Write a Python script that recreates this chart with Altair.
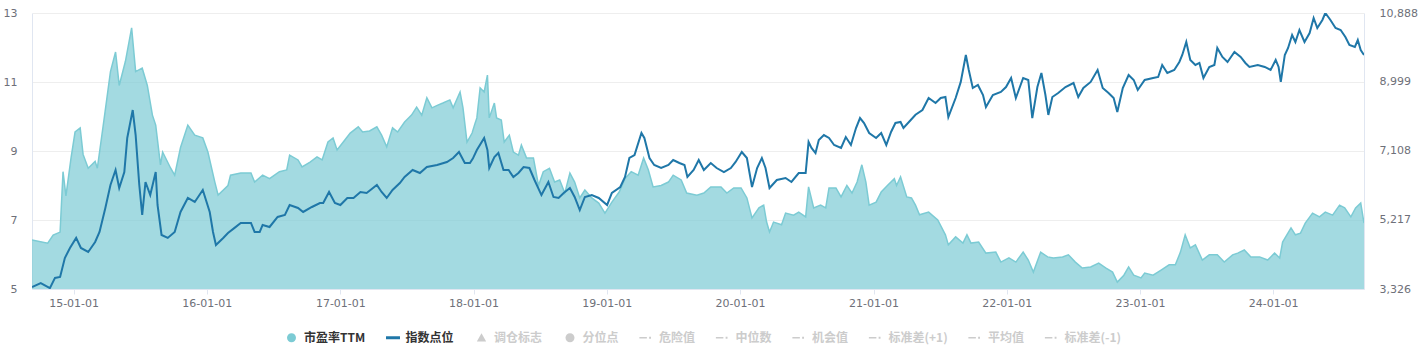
import altair as alt
import pandas as pd

# ---------------- data ----------------
pe_dates = [
    "2014-09-09", "2014-10-22", "2014-11-06", "2014-11-25", "2014-12-03", "2014-12-11", "2014-12-25",
    "2015-01-05", "2015-01-19", "2015-01-27", "2015-02-10", "2015-03-01", "2015-03-07", "2015-03-26",
    "2015-04-12", "2015-04-26", "2015-05-06", "2015-05-23", "2015-06-09", "2015-06-20", "2015-07-08",
    "2015-07-22", "2015-08-05", "2015-08-14", "2015-08-27", "2015-09-02", "2015-09-24", "2015-10-05",
    "2015-10-21", "2015-11-10", "2015-11-29", "2015-12-21",
    "2016-01-04", "2016-01-23", "2016-02-01", "2016-02-28", "2016-03-06", "2016-04-03", "2016-05-01",
    "2016-05-11", "2016-06-02", "2016-06-21", "2016-07-18", "2016-08-07", "2016-08-15", "2016-09-07",
    "2016-09-18", "2016-10-10", "2016-10-29", "2016-11-12", "2016-11-28", "2016-12-12", "2016-12-23",
    "2017-01-09", "2017-01-28", "2017-02-19", "2017-03-03", "2017-03-22", "2017-04-11", "2017-04-24",
    "2017-05-08", "2017-05-24", "2017-06-07", "2017-06-26", "2017-07-15", "2017-07-29", "2017-08-12",
    "2017-08-26", "2017-09-09", "2017-09-25", "2017-10-09", "2017-10-28", "2017-11-06", "2017-11-25",
    "2017-12-03", "2017-12-14", "2017-12-28",
    "2018-01-05", "2018-01-10", "2018-01-19", "2018-01-30", "2018-02-08", "2018-02-13", "2018-02-27",
    "2018-03-05", "2018-03-18", "2018-03-26", "2018-04-09", "2018-04-20", "2018-05-04", "2018-05-12",
    "2018-05-26", "2018-06-14", "2018-06-28", "2018-07-11", "2018-07-28", "2018-08-11", "2018-08-25",
    "2018-09-08", "2018-09-22", "2018-10-05", "2018-10-19", "2018-11-02", "2018-11-21", "2018-12-10",
    "2018-12-27",
    "2019-01-15", "2019-02-04", "2019-02-20", "2019-03-09", "2019-03-28", "2019-04-12", "2019-04-25",
    "2019-05-08", "2019-05-30", "2019-06-19", "2019-07-02", "2019-07-24", "2019-08-08", "2019-09-05",
    "2019-09-24", "2019-10-13", "2019-11-10", "2019-11-26", "2019-12-15",
    "2020-01-04", "2020-01-20", "2020-02-03", "2020-02-22", "2020-03-06", "2020-03-14", "2020-03-22",
    "2020-04-02", "2020-04-24", "2020-05-05", "2020-05-27", "2020-06-10", "2020-06-29", "2020-07-07",
    "2020-07-21", "2020-08-09", "2020-08-23", "2020-09-01", "2020-09-20", "2020-10-04", "2020-10-20",
    "2020-11-03", "2020-11-17", "2020-11-30", "2020-12-11", "2020-12-20",
    "2021-01-08", "2021-01-22", "2021-02-08", "2021-02-27", "2021-03-05", "2021-03-16", "2021-04-02",
    "2021-04-15", "2021-04-26", "2021-05-07", "2021-06-01", "2021-06-26", "2021-07-17", "2021-07-25",
    "2021-08-14", "2021-09-03", "2021-09-14", "2021-09-25", "2021-10-16", "2021-11-05", "2021-12-02",
    "2021-12-16",
    "2022-01-07", "2022-01-26", "2022-02-15", "2022-03-01", "2022-03-15", "2022-04-04", "2022-04-23",
    "2022-05-09", "2022-06-03", "2022-06-19", "2022-07-08", "2022-07-27", "2022-08-19", "2022-09-10",
    "2022-09-29", "2022-10-18", "2022-10-31", "2022-11-18", "2022-12-01", "2022-12-15",
    "2023-01-04", "2023-01-14", "2023-02-06", "2023-02-28", "2023-03-22", "2023-04-08", "2023-04-22",
    "2023-05-05", "2023-05-19", "2023-06-02", "2023-06-21", "2023-07-10", "2023-08-01", "2023-08-20",
    "2023-09-12", "2023-09-26", "2023-10-14", "2023-11-01", "2023-11-25", "2023-12-17",
    "2024-01-05", "2024-01-19", "2024-01-27", "2024-02-19", "2024-03-02", "2024-03-16", "2024-03-29",
    "2024-04-18", "2024-05-07", "2024-05-23", "2024-06-12", "2024-07-01", "2024-07-15", "2024-08-01",
    "2024-08-14", "2024-08-28", "2024-09-06",
]
pe_values = [
    6.42, 6.33, 6.56, 6.65, 8.4, 7.7, 8.8,
    9.55, 9.67, 8.9, 8.5, 8.7, 8.5, 9.96,
    11.3, 11.87, 10.9, 11.6, 12.57, 11.3, 11.4,
    10.9, 10.04, 9.75, 8.6, 8.97, 8.5, 8.3,
    9.1, 9.75, 9.46, 9.38,
    8.97, 8.1, 7.72, 8.0, 8.3, 8.36, 8.36,
    8.1, 8.3, 8.2, 8.4, 8.45, 8.88, 8.74,
    8.54, 8.68, 8.83, 8.74, 9.26, 9.38, 9.03,
    9.26, 9.52, 9.7, 9.55, 9.58, 9.7, 9.46,
    9.12, 9.67, 9.55, 9.84, 10.04, 10.27, 10.04,
    10.54, 10.25, 10.33, 10.39, 10.48, 10.25, 10.71,
    10.25, 9.26, 9.52,
    9.8, 9.96, 10.83, 10.71, 11.2, 9.96, 10.39,
    9.96, 9.9, 9.26, 9.46, 8.97, 8.88, 9.17,
    8.8, 8.8, 8.0, 8.4, 8.5, 8.1, 8.16,
    7.78, 8.36, 8.1, 7.64, 7.87, 7.64, 7.49,
    7.2,
    7.52, 7.81, 8.2, 8.4, 8.3, 8.8, 8.45,
    7.96, 8.0, 8.1, 8.3, 8.16, 7.78, 7.72,
    7.78, 7.96, 7.96, 7.78, 7.93,
    7.93, 7.64, 7.06, 7.35, 7.43, 6.94, 6.65,
    6.94, 6.86, 7.2, 7.14, 7.23, 7.09, 7.96,
    7.35, 7.43, 7.35, 7.93, 7.93, 7.67, 8.0,
    7.78, 8.1, 8.6, 8.1, 7.43,
    7.52, 7.81, 8.0, 8.2, 8.0, 8.25, 7.67,
    7.64, 7.43, 7.15, 7.23, 7.0, 6.57, 6.28,
    6.51, 6.33, 6.57, 6.33, 6.36, 6.04, 6.07,
    5.78,
    5.9, 5.78, 6.07, 5.84, 5.49, 6.07, 5.93,
    5.9, 5.93, 5.99, 5.78, 5.61, 5.64, 5.75,
    5.61, 5.49, 5.2, 5.4, 5.64, 5.4,
    5.32, 5.46, 5.4, 5.55, 5.7, 5.7, 6.07,
    6.57, 6.19, 6.28, 5.84, 5.99, 5.99, 5.78,
    5.99, 6.04, 6.13, 5.93, 5.93, 5.84,
    6.04, 5.9, 6.36, 6.77, 6.57, 6.62, 6.91,
    7.2, 7.09, 7.23, 7.14, 7.43, 7.35, 7.09,
    7.35, 7.49, 6.91,
]

idx_dates = [
    "2014-09-09", "2014-10-03", "2014-10-28", "2014-11-11", "2014-11-25", "2014-12-08", "2014-12-22",
    "2015-01-08", "2015-01-21", "2015-02-10", "2015-03-01", "2015-03-13", "2015-03-29", "2015-04-12",
    "2015-04-26", "2015-05-06", "2015-05-20", "2015-05-28", "2015-06-12", "2015-06-20", "2015-06-30",
    "2015-07-08", "2015-07-17", "2015-07-30", "2015-08-14", "2015-08-19", "2015-08-30", "2015-09-16",
    "2015-10-05", "2015-10-21", "2015-11-10", "2015-11-29", "2015-12-21",
    "2016-01-09", "2016-01-18", "2016-01-26", "2016-02-15", "2016-02-28", "2016-03-17", "2016-04-03",
    "2016-05-01", "2016-05-11", "2016-05-25", "2016-06-02", "2016-06-21", "2016-07-13", "2016-08-02",
    "2016-08-15", "2016-09-07", "2016-09-21", "2016-10-15", "2016-11-06", "2016-11-15", "2016-12-01",
    "2016-12-17",
    "2017-01-01", "2017-01-20", "2017-02-06", "2017-02-25", "2017-03-14", "2017-04-11", "2017-04-24",
    "2017-05-08", "2017-05-24", "2017-06-13", "2017-06-26", "2017-07-18", "2017-08-07", "2017-08-26",
    "2017-09-23", "2017-10-20", "2017-11-06", "2017-11-22", "2017-12-08", "2017-12-22", "2017-12-30",
    "2018-01-10", "2018-01-30", "2018-02-08", "2018-02-13", "2018-02-27", "2018-03-10", "2018-03-24",
    "2018-04-07", "2018-04-20", "2018-05-04", "2018-05-18", "2018-06-03", "2018-06-17", "2018-07-06",
    "2018-07-25", "2018-08-08", "2018-08-22", "2018-09-05", "2018-09-22", "2018-10-05", "2018-10-19",
    "2018-11-02", "2018-11-21", "2018-12-10",
    "2019-01-02", "2019-01-15", "2019-02-07", "2019-02-20", "2019-03-04", "2019-03-18", "2019-04-06",
    "2019-04-14", "2019-04-28", "2019-05-11", "2019-05-30", "2019-06-19", "2019-07-02", "2019-07-19",
    "2019-08-02", "2019-08-10", "2019-08-27", "2019-09-10", "2019-09-24", "2019-10-13", "2019-10-29",
    "2019-11-18", "2019-12-07", "2019-12-20",
    "2020-01-06", "2020-01-20", "2020-02-03", "2020-02-17", "2020-03-01", "2020-03-11", "2020-03-22",
    "2020-04-11", "2020-05-05", "2020-05-21", "2020-06-10", "2020-06-29", "2020-07-07", "2020-07-15",
    "2020-07-26", "2020-08-04", "2020-08-18", "2020-09-01", "2020-09-15", "2020-10-04", "2020-10-17",
    "2020-10-31", "2020-11-14", "2020-11-25", "2020-12-06", "2020-12-20",
    "2021-01-08", "2021-01-22", "2021-02-05", "2021-02-18", "2021-03-02", "2021-03-16", "2021-03-24",
    "2021-04-13", "2021-04-26", "2021-05-15", "2021-06-01", "2021-06-20", "2021-07-04", "2021-07-17",
    "2021-07-25", "2021-08-14", "2021-08-28", "2021-09-11", "2021-09-19", "2021-09-30", "2021-10-14",
    "2021-10-28", "2021-11-05", "2021-11-24", "2021-12-16", "2021-12-30",
    "2022-01-13", "2022-01-26", "2022-02-15", "2022-03-01", "2022-03-12", "2022-03-26", "2022-04-06",
    "2022-04-17", "2022-04-25", "2022-05-06", "2022-05-22", "2022-06-11", "2022-07-03", "2022-07-16",
    "2022-07-30", "2022-08-19", "2022-09-07", "2022-09-21", "2022-10-07", "2022-10-21", "2022-10-31",
    "2022-11-15", "2022-12-01", "2022-12-15", "2022-12-26",
    "2023-01-14", "2023-02-06", "2023-02-20", "2023-03-03", "2023-03-17", "2023-04-05", "2023-04-19",
    "2023-04-27", "2023-05-08", "2023-05-19", "2023-06-02", "2023-06-13", "2023-06-24", "2023-07-10",
    "2023-07-24", "2023-08-01", "2023-08-15", "2023-08-29", "2023-09-17", "2023-10-04", "2023-10-17",
    "2023-10-28", "2023-11-20", "2023-12-09", "2023-12-25",
    "2024-01-08", "2024-01-16", "2024-01-22", "2024-02-02", "2024-02-11", "2024-02-22", "2024-03-02",
    "2024-03-13", "2024-03-27", "2024-04-10", "2024-04-21", "2024-05-01", "2024-05-15", "2024-05-23",
    "2024-06-06", "2024-06-20", "2024-07-04", "2024-07-17", "2024-07-28", "2024-08-12", "2024-08-20",
    "2024-08-28", "2024-09-06",
]
idx_values = [
    3380, 3490, 3350, 3630, 3655, 4175, 4450,
    4725, 4450, 4340, 4614, 4888, 5545, 6175,
    6586, 6093, 6530, 7463, 8230, 7545, 6175,
    5353, 6258, 5900, 6530, 5628, 4806, 4725,
    4888, 5436, 5820, 5710, 6038,
    5436, 4888, 4530, 4725, 4860, 5000, 5135,
    5135, 4888, 4888, 5080, 5025, 5300, 5353,
    5628, 5545, 5436, 5573, 5682, 5682, 5984,
    5682,
    5628, 5820, 5820, 5984, 5957, 6175, 5984,
    5820, 6038, 6230, 6395, 6586, 6504, 6668,
    6723, 6806, 6915, 7080, 6778, 6778, 6900,
    7135, 7463, 7135, 6641, 6943, 7052, 6586,
    6586, 6395, 6504, 6668, 6641, 6313, 5900,
    6258, 5847, 5820, 5957, 6093, 5847, 5490,
    5847, 5900, 5820,
    5628, 5957, 6121, 6395, 6915, 6997, 7600,
    7463, 6915, 6723, 6641, 6723, 6860, 6778,
    6723, 6395, 6586, 6860, 6586, 6778, 6641,
    6530, 6641, 6806,
    7080, 6915, 6121, 6641, 6915, 6641, 6093,
    6313, 6367, 6258, 6504, 6504, 7354, 7190,
    7052, 7409, 7545, 7463, 7272, 7190, 7490,
    7272, 7737, 8010, 7874, 7600,
    7463, 7600, 7272, 7628, 7874, 7902, 7737,
    7957, 8100, 8230, 8559, 8422, 8559, 8587,
    8038, 8559, 9000, 9738, 9327, 8833, 8916,
    8641, 8313, 8641, 8724, 8860,
    9107, 8559, 9107, 9053, 8010, 8860, 9244,
    8641, 8094, 8587, 8696, 8860, 8970, 8587,
    8833, 9000, 9327, 8833, 8696, 8559, 8176,
    8833, 9190, 9053, 8779,
    9053, 9107, 9135, 9464, 9244, 9327, 9546,
    9738, 10094, 9601, 9464, 9519, 9107, 9409,
    9464, 9929, 9683, 9546, 9820, 9683, 9519,
    9409, 9464, 9409, 9327,
    9601, 9409, 9000, 9738, 9929, 10285, 10094,
    10422, 10094, 10340, 10751, 10477, 10696, 10888,
    10696, 10477, 10422, 10230, 10012, 9957, 10148,
    9875, 9738,
]

pe_ticks = [5, 7, 9, 11, 13]
idx_ticks = [3326, 5217, 7108, 8999, 10888]
year_ticks = [2015, 2016, 2017, 2018, 2019, 2020, 2021, 2022, 2023, 2024]

legend_items = ["市盈率TTM", "指数点位", "调仓标志", "分位点", "危险值", "中位数",
                "机会值", "标准差(+1)", "平均值", "标准差(-1)"]

# ---------------- styles ----------------
PE_COLOR = "#7ccbd4"
IDX_COLOR = "#1f77a8"
OFF_COLOR = "#cccccc"
LABEL_COLOR = "#6e7079"
AXIS_LINE = "#e0e6f1"
GRID = "#eeeeee"
FONT = "DejaVu Sans"

CIRCLE = "M-0.6,0A0.6,0.6,0,1,1,0.6,0A0.6,0.6,0,1,1,-0.6,0Z"
BAR = "M-0.93,-0.2H0.93V0.2H-0.93Z"
TRI = "M0,-0.6L0.62,0.5L-0.62,0.5Z"
DASHDOT = "M-0.95,-0.1H0.05V0.1H-0.95Z M0.35,-0.13H0.6V0.13H0.35Z"
legend_colors = [PE_COLOR, IDX_COLOR] + [OFF_COLOR] * 8
legend_shapes = [CIRCLE, BAR, TRI, CIRCLE] + [DASHDOT] * 6

assert len(pe_dates) == len(pe_values)
assert len(idx_dates) == len(idx_values)

pe_df = pd.DataFrame({"date": pd.to_datetime(pe_dates), "pe": pe_values})
idx_df = pd.DataFrame({"date": pd.to_datetime(idx_dates), "idx": idx_values})
leg_df = pd.DataFrame({"item": legend_items})

x_enc = alt.X(
    "date:T",
    scale=alt.Scale(nice=False),
    axis=alt.Axis(
        title=None, format="%y-%m-%d",
        values=[alt.DateTime(year=y, month=1, date=1) for y in year_ticks],
        grid=False, tickSize=5, tickColor=AXIS_LINE, domainColor=AXIS_LINE,
        labelColor=LABEL_COLOR, labelFont=FONT, labelFontSize=11, labelPadding=3,
    ),
)

area = alt.Chart(pe_df).mark_area(
    color=PE_COLOR, fillOpacity=0.7,
    line=alt.OverlayMarkDef(color=PE_COLOR, strokeWidth=1.5),
    clip=True,
).encode(
    x=x_enc,
    y=alt.Y(
        "pe:Q",
        scale=alt.Scale(domain=[5, 13], nice=False, zero=False),
        axis=alt.Axis(
            title=None, values=pe_ticks, grid=True, gridColor=GRID, ticks=False,
            domain=True, domainColor=AXIS_LINE, labelColor=LABEL_COLOR,
            labelFont=FONT, labelFontSize=11, labelPadding=15,
        ),
    ),
    y2=alt.datum(5),
)

line = alt.Chart(idx_df).mark_line(color=IDX_COLOR, strokeWidth=2, clip=True).encode(
    x=x_enc,
    y=alt.Y(
        "idx:Q",
        scale=alt.Scale(domain=[3326, 10888], nice=False, zero=False),
        axis=alt.Axis(
            title=None, orient="right", values=idx_ticks, format=",d", grid=False,
            ticks=False, domain=True, domainColor=AXIS_LINE, labelColor=LABEL_COLOR,
            labelFont=FONT, labelFontSize=11, labelPadding=15,
        ),
    ),
)

leg = alt.Legend(
    title=None, orient="none", legendX=252, legendY=317, direction="horizontal",
    columns=10, symbolSize=225, symbolStrokeWidth=0, symbolOpacity=1,
    labelFont="Noto Sans CJK SC", labelFontSize=12, labelFontWeight="bold",
    labelOffset=5, columnPadding=19.5, labelLimit=0,
    labelColor=alt.ExprRef(
        "indexof(['市盈率TTM','指数点位'], datum.label) >= 0 ? '#333333' : '#cccccc'"
    ),
)

legend_layer = alt.Chart(leg_df).mark_point(filled=True, opacity=0).encode(
    x=alt.value(0),
    y=alt.value(0),
    color=alt.Color("item:N", scale=alt.Scale(domain=legend_items, range=legend_colors), legend=leg),
    shape=alt.Shape("item:N", scale=alt.Scale(domain=legend_items, range=legend_shapes), legend=leg),
)

chart = alt.layer(area, line, legend_layer).resolve_scale(y="independent").properties(
    width=1332, height=276,
    padding={"left": 32, "top": 13, "right": 61, "bottom": 64},
    autosize=alt.AutoSizeParams(type="none"),
    background="white",
).configure_view(stroke=None)

chart.save("out.html", embed_options={"renderer": "svg", "actions": False})
